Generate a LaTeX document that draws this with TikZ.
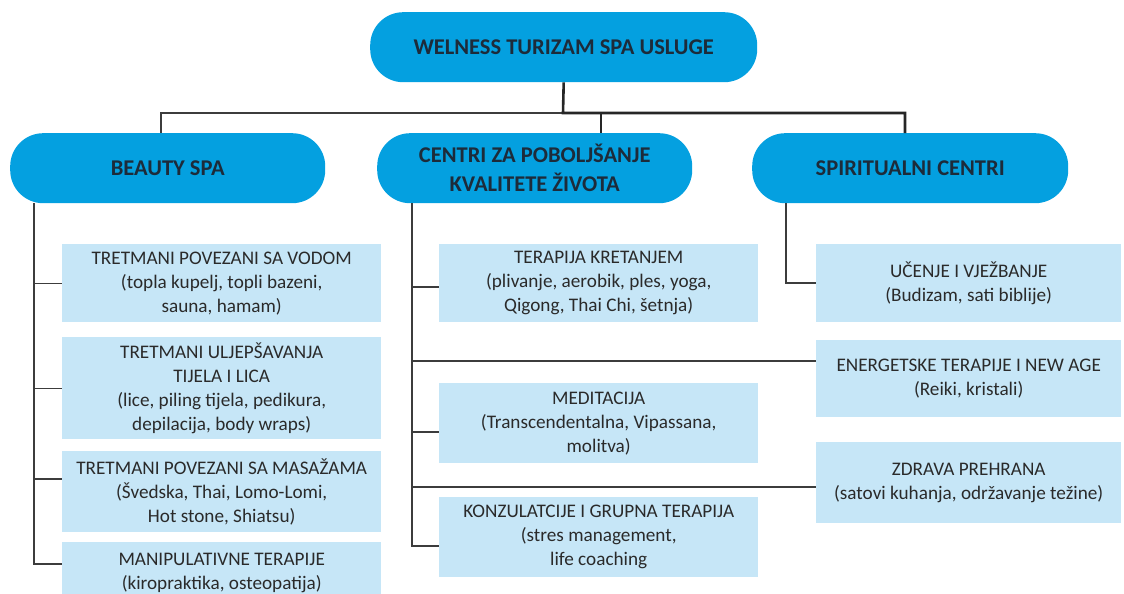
\documentclass[tikz,border=0pt]{standalone}
\usepackage{fontspec}
\setmainfont{Carlito}
\usetikzlibrary{calc}
\definecolor{hblue}{HTML}{04A0E0}
\definecolor{lblue}{HTML}{C6E6F7}
\definecolor{htext}{HTML}{1D2B3A}
\definecolor{btext}{HTML}{2A2A2A}
\definecolor{lgray}{HTML}{3C3C3C}
\tikzset{
  head/.style={fill=hblue, rounded corners=33pt, inner sep=0pt, align=center,
    text=htext, font=\bfseries\fontsize{22.5}{29}\selectfont, anchor=north west},
  item/.style={fill=lblue, inner sep=0pt, align=center, text=btext,
    font=\fontsize{19.2}{24}\selectfont, anchor=north west},
  thin/.style={draw=lgray, line width=1.3pt},
  thick/.style={draw=black!85, line width=2.6pt},
}
\begin{document}
\begin{tikzpicture}[x=1pt,y=-1pt]
\useasboundingbox (0,0) rectangle (1124,594);
\clip (0,0) rectangle (1124,594);
% headers
\node[head, minimum width=387pt, minimum height=70pt] (top) at (370,12) {WELNESS TURIZAM SPA USLUGE};
\node[head, minimum width=315pt, minimum height=70pt] (beauty) at (10,133) {BEAUTY SPA};
\node[head, minimum width=315pt, minimum height=70pt] (centri) at (377,133) {CENTRI ZA POBOLJŠANJE\\KVALITETE ŽIVOTA};
\node[head, minimum width=316pt, minimum height=70pt] (spirit) at (752,133) {SPIRITUALNI CENTRI};
% items
\node[item, minimum width=319pt, minimum height=78pt] (b1) at (62,244) {TRETMANI POVEZANI SA VODOM\\(topla kupelj, topli bazeni,\\sauna, hamam)};
\node[item, minimum width=319pt, minimum height=102pt] (b2) at (62,337) {TRETMANI ULJEPŠAVANJA\\TIJELA I LICA\\(lice, piling tijela, pedikura,\\depilacija, body wraps)};
\node[item, minimum width=319pt, minimum height=81pt] (b3) at (62,451) {TRETMANI POVEZANI SA MASAŽAMA\\(Švedska, Thai, Lomo-Lomi,\\Hot stone, Shiatsu)};
\node[item, minimum width=319pt, minimum height=62pt] (b4) at (62,542) {MANIPULATIVNE TERAPIJE\\(kiropraktika, osteopatija)};
\node[item, minimum width=319pt, minimum height=78pt] (c1) at (439,244) {TERAPIJA KRETANJEM\\(plivanje, aerobik, ples, yoga,\\Qigong, Thai Chi, šetnja)};
\node[item, minimum width=319pt, minimum height=80pt] (c2) at (439,383) {MEDITACIJA\\(Transcendentalna, Vipassana,\\molitva)};
\node[item, minimum width=319pt, minimum height=80pt] (c3) at (439,497) {KONZULATCIJE I GRUPNA TERAPIJA\\(stres management,\\life coaching};
\node[item, minimum width=305pt, minimum height=78pt] (s1) at (816,244) {UČENJE I VJEŽBANJE\\(Budizam, sati biblije)};
\node[item, minimum width=305pt, minimum height=77pt] (s2) at (816,340) {ENERGETSKE TERAPIJE I NEW AGE\\(Reiki, kristali)};
\node[item, minimum width=305pt, minimum height=81pt] (s3) at (816,442) {ZDRAVA PREHRANA\\(satovi kuhanja, održavanje težine)};
% trunk coordinates
\coordinate (hl) at (161,113);
\coordinate (hm) at (563,113);
\coordinate (hc) at (601,113);
\coordinate (hr) at (905,113);
\coordinate (bt) at (34,203);
\coordinate (ct) at (412,203);
\coordinate (st) at (786,203);
% top level connectors
\draw[thin] (hm) -- (hl) -- (hl |- beauty.north);
\draw[thick] (top.south) -- (hm) -- (hr) -- (hr |- spirit.north);
\draw[thick] (hc) -- (hc |- centri.north);
% beauty branch
\draw[thin] (bt) |- (b4.west |- 0,564);
\draw[thin] (bt |- b1.west) -- (b1.west);
\draw[thin] (bt |- b2.west) -- (b2.west);
\draw[thin] (bt |- 0,479) -- (b3.west |- 0,479);
% centri branch
\draw[thin] (ct) |- (c3.west |- 0,546);
\draw[thin] (ct |- 0,287) -- (c1.west |- 0,287);
\draw[thin] (ct |- 0,432) -- (c2.west |- 0,432);
\draw[thin] (ct |- 0,361) -- (s2.west |- 0,361);
\draw[thin] (ct |- 0,487) -- (s3.west |- 0,487);
% spiritual branch
\draw[thin] (st) |- (s1.west |- 0,283);
\end{tikzpicture}
\end{document}
